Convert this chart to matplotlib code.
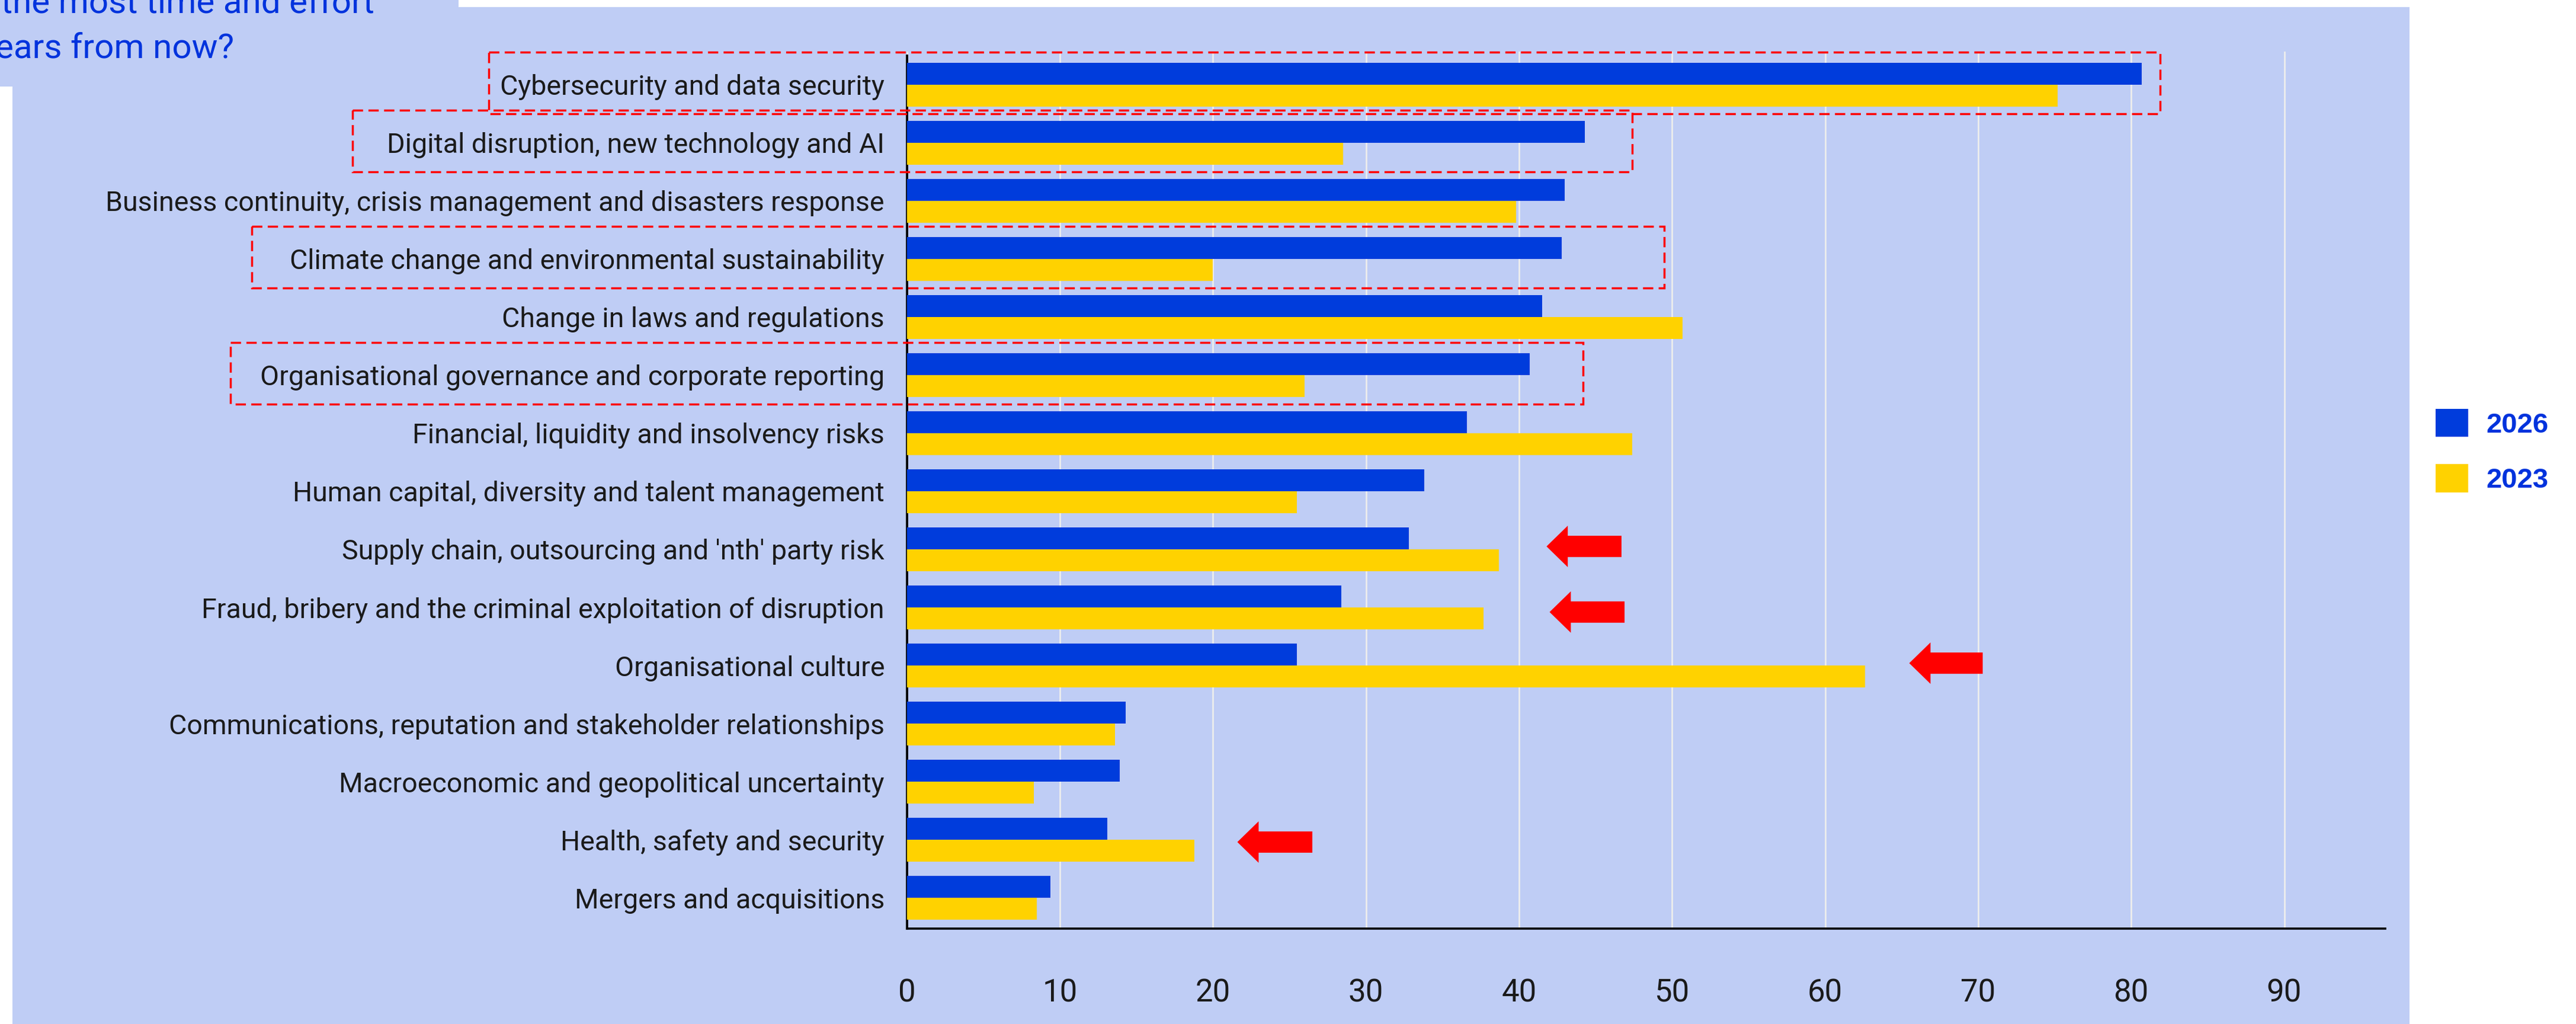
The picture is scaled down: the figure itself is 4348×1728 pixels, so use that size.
import numpy as np
import matplotlib
matplotlib.use('Agg')
import matplotlib.pyplot as plt
from matplotlib.patches import Rectangle

categories = [
    'Cybersecurity and data security',
    'Digital disruption, new technology and AI',
    'Business continuity, crisis management and disasters response',
    'Climate change and environmental sustainability',
    'Change in laws and regulations',
    'Organisational governance and corporate reporting',
    'Financial, liquidity and insolvency risks',
    'Human capital, diversity and talent management',
    "Supply chain, outsourcing and 'nth' party risk",
    'Fraud, bribery and the criminal exploitation of disruption',
    'Organisational culture',
    'Communications, reputation and stakeholder relationships',
    'Macroeconomic and geopolitical uncertainty',
    'Health, safety and security',
    'Mergers and acquisitions',
]
share_2026 = [80.7, 44.3, 43.0, 42.8, 41.5, 40.7, 36.6, 33.8, 32.8, 28.4, 25.5, 14.3, 13.9, 13.1, 9.4]
share_2023 = [75.2, 28.5, 39.8, 20.0, 50.7, 26.0, 47.4, 25.5, 38.7, 37.7, 62.6, 13.6, 8.3, 18.8, 8.5]
series_labels = ['2026', '2023']
xticks = list(range(0, 100, 10))
marked_ticks = list(range(20, 100, 10))

# dashed highlight boxes: (row, left, right) in axis units
boxes = [(0, -27.3, 81.9), (1, -36.2, 47.4), (3, -42.8, 49.5), (5, -44.2, 44.2)]
# red arrows: (y, tip, tail)
arrows = [(7.95, 41.8, 46.7), (9.08, 42.0, 46.9), (9.96, 65.5, 70.3), (13.04, 21.6, 26.5)]

BLUE = '#003CDC'
YELLOW = '#FFD200'
PANEL = '#BFCDF5'
TITLE_BLUE = '#0033DD'
NARROW = ['Roboto', 'DejaVu Sans']

W, H = 4348, 1728
fig = plt.figure(figsize=(W / 100, H / 100), dpi=100, facecolor='white')

# background panels
fig.add_artist(Rectangle((21 / W, 0), (4067 - 21) / W, (H - 12) / H,
                         transform=fig.transFigure, facecolor=PANEL, edgecolor='none', zorder=0))
fig.add_artist(Rectangle((0, 1 - 146 / H), 774 / W, 146 / H,
                         transform=fig.transFigure, facecolor=PANEL, edgecolor='none', zorder=0))

# cut-off title
fig.text(2 / W, 1 - 22 / H, 'the most time and effort', family=NARROW, fontsize=42,
         color=TITLE_BLUE, va='baseline', ha='left')
fig.text(-8 / W, 1 - 97 / H, 'ears from now?', family=NARROW, fontsize=42,
         color=TITLE_BLUE, va='baseline', ha='left')

ax = fig.add_axes([1530.5 / W, 1 - 1567 / H, (4026 - 1530.5) / W, (1567 - 87) / H])
ax.set_facecolor('none')

y = np.arange(len(categories))
h = 0.378
b26 = ax.barh(y - h / 2, share_2026, height=h, color=BLUE, zorder=3)
b23 = ax.barh(y + h / 2, share_2023, height=h, color=YELLOW, zorder=3)

ax.set_xlim(0, 96.6)
ax.set_ylim(14.53, -0.57)

ax.set_yticks(y)
ax.set_yticklabels(categories, family=NARROW, fontsize=33.5, color='#1A1A1A')
ax.set_xticks(xticks)
ax.set_xticklabels([str(t) for t in xticks], family=NARROW, fontsize=38, color='#1A1A1A')
ax.set_xticks(marked_ticks, minor=True)
ax.tick_params(axis='y', length=0, pad=27)
ax.tick_params(axis='x', which='major', length=0, pad=60)
ax.tick_params(axis='x', which='minor', direction='in', length=26.5, width=1.8, color='black')

ax.grid(axis='x', which='major', color='#EDEDED', linewidth=2.0, zorder=1)
ax.set_axisbelow(True)
for s in ['top', 'right']:
    ax.spines[s].set_visible(False)
ax.spines['left'].set_linewidth(2.8)
ax.spines['bottom'].set_linewidth(2.6)
ax.spines['left'].set_bounds(14.53, -0.5)

for row, x0, x1 in boxes:
    ax.add_patch(Rectangle((x0, row - 0.56), x1 - x0, 1.06, fill=False, edgecolor='#FF0000',
                           linewidth=2.5, linestyle=(0, (5, 2.6)), clip_on=False, zorder=4))

for yy, tip, tail in arrows:
    ax.arrow(tail, yy, tip - tail, 0, width=0.367, head_width=0.714, head_length=1.39,
             length_includes_head=True, color='#FF0000', linewidth=0, zorder=5)

fig.legend([b26, b23], series_labels, loc='upper left', bbox_to_anchor=(4111 / W, 1 - 690 / H),
           frameon=False, borderpad=0, borderaxespad=0, handlelength=1.16, handleheight=1.16,
           handletextpad=0.65, labelspacing=0.93,
           prop={'family': 'Liberation Sans', 'weight': 'bold', 'size': 34}, labelcolor=TITLE_BLUE)

fig.savefig('out.png', dpi=100, facecolor='white')
